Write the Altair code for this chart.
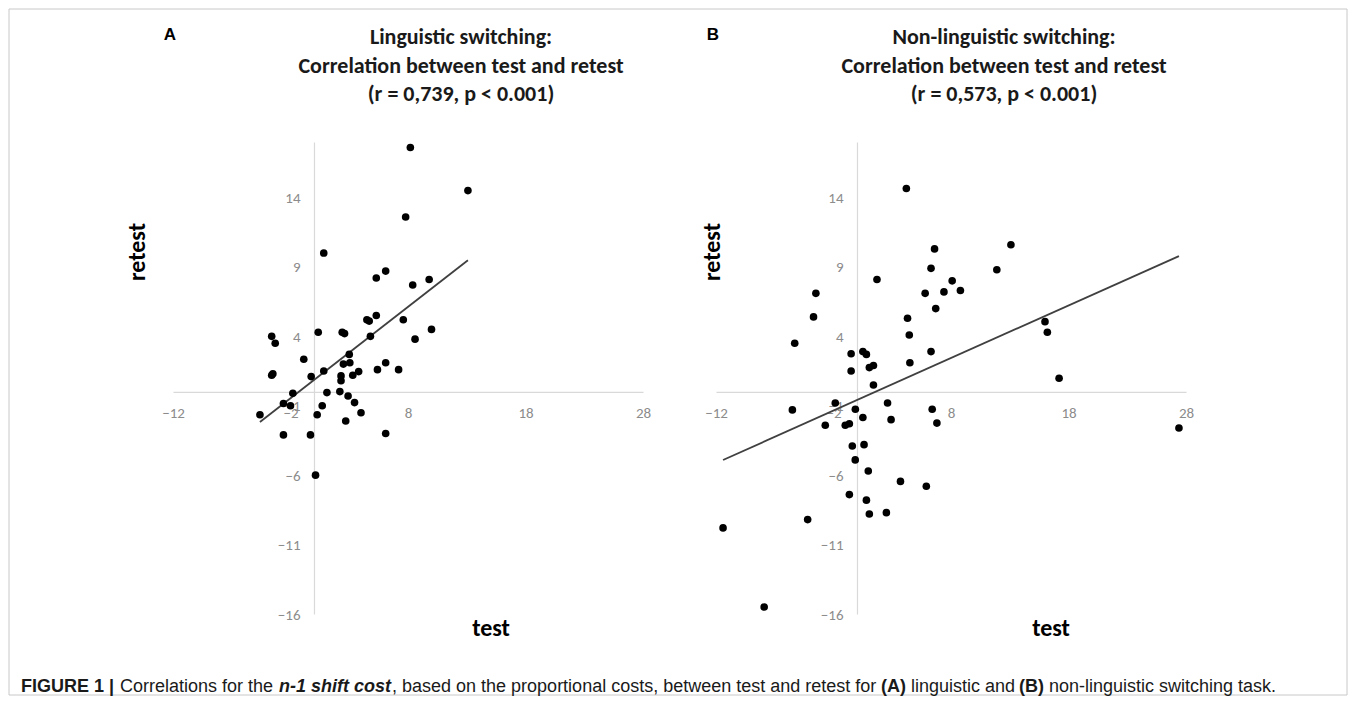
import altair as alt
import pandas as pd

# ---------------- data ----------------
a_test = [8.2, 0.83, 7.8, 5.3, 6.1, 8.4, 9.8, 4.5, 4.7, 5.3, 7.6, 0.36, 2.4, 2.6, 10.0, -3.6, -3.3, 4.8, 8.6, -0.87,
          3.0, 2.5, 3.05, -3.6, -3.5, -0.24, 0.83, 2.3, 2.3, 3.3, 3.8, 5.4, 6.1, 7.2, -1.8, 1.1, 2.2, 2.9, -2.6, -2.0,
          -4.6, 0.7, 3.45, 0.27, 4.0, 2.7, -2.6, -0.3, 6.1, 0.13, 13.1]
a_retest = [17.6, 10.0, 12.6, 8.2, 8.7, 7.7, 8.1, 5.2, 5.1, 5.5, 5.2, 4.3, 4.3, 4.2, 4.5, 4.0, 3.5, 4.0, 3.8, 2.35,
            2.7, 2.0, 2.1, 1.2, 1.3, 1.1, 1.5, 1.15, 0.8, 1.2, 1.46, 1.6, 2.1, 1.6, -0.1, -0.05, 0.02, -0.3, -0.84, -1.0,
            -1.65, -1.0, -0.77, -1.65, -1.5, -2.1, -3.1, -3.1, -3.0, -6.0, 14.5]

b_test = [4.2, 6.6, 6.3, 1.7, -3.5, -3.7, -5.3, 5.8, 7.4, 6.7, 4.3, 4.45, 6.3, -0.5, 0.5, 0.8, 4.5, 1.05, 1.4, -0.5,
          13.1, 11.9, 8.1, 8.8, 16.0, 16.2, 17.2, 6.4, 6.8, 27.4, 1.4, -5.5, -1.85, -0.14, 2.6, 0.5, 2.9, -2.7, -1.0, -0.65,
          -0.4, 0.6, -0.15, 0.96, 3.7, 5.9, -0.65, 0.8, 1.05, 2.5, -4.2, -11.4, -7.9]
b_retest = [14.65, 10.3, 8.9, 8.1, 7.1, 5.4, 3.5, 7.1, 7.2, 6.0, 5.3, 4.1, 2.9, 2.75, 2.9, 2.7, 2.1, 1.75, 1.9, 1.5,
            10.6, 8.8, 8.0, 7.3, 5.06, 4.3, 0.98, -1.25, -2.25, -2.6, 0.5, -1.3, -0.8, -1.25, -0.8, -1.85, -2.0, -2.4, -2.4, -2.3,
            -3.9, -3.8, -4.9, -5.7, -6.45, -6.8, -7.4, -7.8, -8.8, -8.7, -9.2, -9.8, -15.5]

x_ticks = [-12, -2, 8, 18, 28]
y_ticks = [-16, -11, -6, -1, 4, 9, 14]
x_domain = [-12, 28]
y_domain = [-16, 18]

title_a = ["Linguistic switching:", "Correlation between test and retest", "(r = 0,739, p < 0.001)"]
title_b = ["Non-linguistic switching:", "Correlation between test and retest", "(r = 0,573, p < 0.001)"]
letters = ["A", "B"]
x_title = "test"
y_title = "retest"

caption_parts = ["FIGURE 1 |", "Correlations for the", "n-1 shift cost",
                 ", based on the proportional costs, between test and retest for",
                 "(A)", "linguistic and", "(B)", "non-linguistic switching task."]

# ---------------- layout / style ----------------
W, H = 470, 472
TITLE_FONT = "Carlito, Lato, sans-serif"
LABEL_FONT = "Carlito, Lato, sans-serif"
CAP_FONT = "Liberation Sans, Arial, sans-serif"
caption_x = [-152, -53, 106, 219, 708, 738, 846, 876]
caption_w = ["bold", "normal", "bold", "normal", "bold", "normal", "bold", "normal"]
caption_s = ["normal", "normal", "italic", "normal", "normal", "normal", "normal", "normal"]


def panel(test, retest, letter, tlines, retest_dx, test_dx, extras=False):
    df = pd.DataFrame({"test": test, "retest": retest})
    x_off = -W * (0 - x_domain[0]) / (x_domain[1] - x_domain[0])
    y_off = -H * (0 - y_domain[0]) / (y_domain[1] - y_domain[0])
    xenc = alt.X("test:Q", scale=alt.Scale(domain=x_domain, nice=False, zero=False),
                 axis=alt.Axis(values=x_ticks, title=None, grid=False, ticks=False, offset=y_off,
                               domainColor="#d9d9d9", domainWidth=1.2, labelColor="#8c8c8c",
                               labelFont=LABEL_FONT, labelFontSize=15, labelPadding=14,
                               labelFlush=False, labelOverlap=False))
    yenc = alt.Y("retest:Q", scale=alt.Scale(domain=y_domain, nice=False, zero=False),
                 axis=alt.Axis(values=y_ticks, title=None, grid=False, ticks=False, offset=x_off,
                               domainColor="#d9d9d9", domainWidth=1.2, labelColor="#8c8c8c",
                               labelFont=LABEL_FONT, labelFontSize=15, labelPadding=14,
                               labelFlush=False, labelOverlap=False))
    base = alt.Chart(df)
    pts = base.mark_circle(size=58, color="black", opacity=1).encode(x=xenc, y=yenc)
    reg = base.transform_regression("test", "retest").mark_line(
        color="#404040", strokeWidth=1.8).encode(x="test:Q", y="retest:Q")

    one = pd.DataFrame({"k": [0]})
    tdf = alt.Chart(one)
    ttl = tdf.mark_text(text=tlines, font=TITLE_FONT, fontSize=22, fontWeight="bold",
                        lineHeight=28.5, align="center", baseline="top", color="#1a1a1a").encode(
        x=alt.value(288), y=alt.value(-115))
    let = tdf.mark_text(text=letter, font="Liberation Sans, Arial, sans-serif", fontSize=17,
                        fontWeight="bold", align="center", baseline="middle", color="black").encode(
        x=alt.value(-3), y=alt.value(-107))
    ytl = tdf.mark_text(text=y_title, font=TITLE_FONT, fontSize=24, fontWeight="bold", angle=270,
                        align="center", baseline="middle", color="black").encode(
        x=alt.value(retest_dx), y=alt.value(110))
    xtl = tdf.mark_text(text=x_title, font=TITLE_FONT, fontSize=24, fontWeight="bold",
                        align="center", baseline="middle", color="black").encode(
        x=alt.value(test_dx), y=alt.value(487))
    layers = [reg, pts, ttl, let, ytl, xtl]
    if extras:
        border = tdf.mark_rect(fill="white", fillOpacity=0, stroke="#c8c8c8", strokeWidth=1).encode(
            x=alt.value(-164), x2=alt.value(1174), y=alt.value(-133), y2=alt.value(553))
        layers.insert(0, border)
        for txt, cx, fw, fs in zip(caption_parts, caption_x, caption_w, caption_s):
            layers.append(tdf.mark_text(text=txt, font=CAP_FONT, fontSize=18, fontWeight=fw, fontStyle=fs,
                                        align="left", baseline="middle", color="#1a1a1a").encode(
                x=alt.value(cx), y=alt.value(545)))
    return alt.layer(*layers).properties(width=W, height=H)


pa = panel(a_test, a_retest, letters[0], title_a, -35, 318, extras=True)
pb = panel(b_test, b_retest, letters[1], title_b, -3, 335)

chart = alt.hconcat(pa, pb, spacing=73, bounds="flush").properties(padding=0).configure_view(strokeWidth=0)

chart.save("out.html", embed_options={"renderer": "svg", "actions": False})
